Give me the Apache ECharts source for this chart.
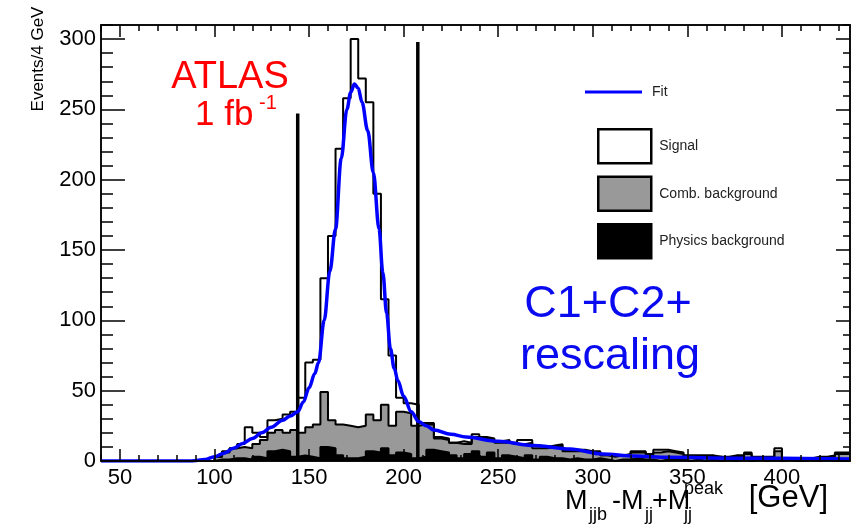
<!DOCTYPE html>
<html>
<head>
<meta charset="utf-8">
<title>Mjjb fit</title>
<script src="https://cdn.jsdelivr.net/npm/echarts@6/dist/echarts.min.js"></script>
<style>
  html, body { margin: 0; padding: 0; background: #fff; }
  #main { width: 851px; height: 526px; }
</style>
</head>
<body>
<div id="main"></div>
<script>
// binning of the histogram, GeV
var binLow = 40;
var binWidth = 4;

// events per 4 GeV bin, 40 .. 436 GeV (99 bins), one array per stacked component
var physBkg = [
  0, 0, 0, 0, 0, 0, 0, 0, 0, 0,
  0, 0, 0, 0, 0, 1, 1, 2, 2, 1,
  3, 2, 7, 8, 7, 3, 4, 3, 2, 10,
  9, 4, 2, 2, 3, 7, 6, 9, 4, 6,
  5, 2, 3, 8, 7, 6, 4, 2, 5, 7,
  3, 6, 2, 4, 3, 2, 4, 1, 3, 2,
  2, 1, 2, 1, 1, 2, 1, 0, 1, 1,
  2, 1, 1, 0, 1, 1, 1, 0, 1, 0,
  1, 0, 1, 0, 1, 0, 1, 0, 1, 0,
  1, 0, 0, 1, 0, 1, 0, 1, 1
];
var combBkg = [
  0, 0, 0, 0, 0, 0, 0, 0, 0, 0,
  0, 0, 0, 0, 0, 2, 5, 7, 8, 8,
  9, 13, 13, 14, 13, 19, 16, 21, 24, 39,
  20, 22, 23, 22, 22, 26, 23, 31, 21, 29,
  29, 23, 23, 18, 9, 9, 9, 10, 7, 10,
  13, 9, 11, 9, 9, 10, 9, 8, 6, 8,
  9, 6, 5, 6, 5, 4, 3, 3, 3, 3,
  4, 5, 3, 6, 6, 5, 4, 3, 2, 3,
  2, 3, 1, 3, 2, 5, 1, 2, 1, 7,
  1, 1, 2, 0, 2, 1, 3, 4, 4
];
var signal = [
  0, 0, 0, 0, 0, 0, 0, 0, 0, 0,
  0, 0, 0, 0, 0, 0, 1, 0, 2, 15,
  8, 2, 9, 8, 13, 13, 25, 46, 46, 81,
  131, 196, 233, 276, 247, 222, 161, 75, 50, 10,
  7, 15, 1, 1, 1, 1, 0, 2, 1, 2,
  1, 1, 1, 2, 1, 3, 2, 2, 1, 1,
  1, 1, 1, 1, 1, 1, 0, 1, 0, 1,
  1, 1, 1, 2, 1, 1, 1, 1, 1, 1,
  1, 0, 1, 1, 1, 1, 1, 1, 1, 2,
  0, 1, 0, 1, 1, 1, 1, 1, 1
];

// fit curve
var fitMass = [40, 88, 95, 100, 105, 110, 115, 120, 125, 130, 136, 140, 144, 147, 150, 153, 155, 158,
  161, 164, 167, 170, 172, 174, 176, 178, 181, 184, 187, 189, 191, 193, 195, 197, 200, 204, 208,
  212, 216, 225, 233, 250, 269, 288, 305, 322, 340, 375, 436];
var fitEvents = [0, 0, 1, 3, 5.5, 9, 12.5, 16, 20, 24, 29, 32, 35, 42, 52, 62, 70, 100,
  135, 165, 215, 250, 262, 268, 265, 255, 235, 205, 165, 134, 105, 80, 66, 57, 46, 35, 28,
  25, 22, 19, 17, 14, 11, 8.5, 5, 3.5, 2.7, 2, 1.5];

// mass window lines
var cutMass = [144, 207.5];
var cutTop = [247, 298];

var xTickLabels = [50, 100, 150, 200, 250, 300, 350, 400];
var yTickLabels = [0, 50, 100, 150, 200, 250, 300];

var xMin = 40, xMax = 436, yMax = 310;
var font = 'Liberation Sans, Arial, Helvetica, sans-serif';

var xMinor = [], yMinor = [];
for (var v = 40; v <= xMax; v += 10) if (v % 50) xMinor.push(v);
for (var w = 10; w <= yMax; w += 10) if (w % 50) yMinor.push(w);

// step outline points: left edge of every bin + closing right edge
function steps(vals) {
  var pts = vals.map(function (y, i) { return [binLow + i * binWidth, y]; });
  pts.push([binLow + vals.length * binWidth, vals[vals.length - 1]]);
  return pts;
}
var physTop = physBkg.slice();
var combTop = physBkg.map(function (p, i) { return p + combBkg[i]; });
var total = combTop.map(function (c, i) { return c + signal[i]; });

function histSeries(name, vals, fill) {
  return {
    name: name, type: 'line', step: 'end', data: steps(vals),
    symbol: 'none', color: fill,
    lineStyle: { color: '#000', width: 2 },
    areaStyle: { color: fill, opacity: 1 },
    animation: false
  };
}

function xAxis(pos, major, len, labels) {
  return {
    type: 'value', position: pos, min: xMin, max: xMax,
    axisLine: { show: true, onZero: false, lineStyle: { color: '#000', width: 1.5 } },
    axisTick: { show: true, inside: true, length: len, customValues: major,
      lineStyle: { color: '#000', width: 1.5 } },
    axisLabel: labels ? { customValues: xTickLabels, fontSize: 22, color: '#000',
      fontFamily: font, margin: 6 } : { show: false },
    splitLine: { show: false }, z: 5
  };
}
function yAxis(pos, major, len, labels) {
  return {
    type: 'value', position: pos, min: 0, max: yMax,
    axisLine: { show: true, onZero: false, lineStyle: { color: '#000', width: 1.5 } },
    axisTick: { show: true, inside: true, length: len, customValues: major,
      lineStyle: { color: '#000', width: 1.5 } },
    axisLabel: labels ? { customValues: yTickLabels, fontSize: 22, color: '#000',
      fontFamily: font, margin: 5 } : { show: false },
    splitLine: { show: false }, z: 5
  };
}

function txt(s, x, y, size, color, align, rot) {
  return {
    type: 'text', x: x, y: y, rotation: rot || 0, z: 20,
    style: { text: s, fill: color || '#000', fontSize: size, fontFamily: font,
      textAlign: align || 'left', textVerticalAlign: 'middle' }
  };
}

var chart = echarts.init(document.getElementById('main'));
chart.setOption({
  animation: false,
  grid: { left: 101, right: 1, top: 25, bottom: 65, outerBoundsMode: 'none' },
  xAxis: [
    xAxis('bottom', xTickLabels, 12, true),
    xAxis('bottom', xMinor, 6, false),
    xAxis('top', xTickLabels, 12, false),
    xAxis('top', xMinor, 6, false)
  ],
  yAxis: [
    yAxis('left', yTickLabels, 24, true),
    yAxis('left', yMinor, 12, false),
    yAxis('right', yTickLabels, 14, false),
    yAxis('right', yMinor, 7, false)
  ],
  legend: [{
    left: 585, top: 85, padding: 0, itemWidth: 57, itemHeight: 3, selectedMode: false,
    textStyle: { fontSize: 14, color: '#222', fontFamily: font, padding: [0, 0, 0, 5] },
    data: [{ name: 'Fit', icon: 'rect', itemStyle: { color: '#0000ff', borderWidth: 0 } }]
  }, {
    left: 597, top: 128, padding: 0, orient: 'vertical', itemWidth: 53, itemHeight: 34, itemGap: 11,
    selectedMode: false,
    textStyle: { fontSize: 14, color: '#222', fontFamily: font, padding: [0, 0, 0, 3] },
    data: [
      { name: 'Signal', icon: 'rect', itemStyle: { color: '#fff', borderColor: '#000', borderWidth: 2.5 } },
      { name: 'Comb. background', icon: 'rect', itemStyle: { color: '#999', borderColor: '#000', borderWidth: 2.5 } },
      { name: 'Physics background', icon: 'rect', itemStyle: { color: '#000', borderColor: '#000', borderWidth: 2.5 } }
    ]
  }],
  series: [
    histSeries('Signal', total, '#fff'),
    histSeries('Comb. background', combTop, '#999'),
    histSeries('Physics background', physTop, '#000')
  ].concat(cutMass.map(function (m, i) {
    return {
      name: 'cut' + i, type: 'line', data: [[m, 0], [m, cutTop[i]]], symbol: 'none',
      lineStyle: { color: '#000', width: 3.5 }, z: 3
    };
  })).concat([{
    name: 'Fit', type: 'line', color: '#0000ff',
    data: fitMass.map(function (m, i) { return [m, fitEvents[i]]; }),
    symbol: 'none', smooth: 0.35, smoothMonotone: 'x',
    lineStyle: { color: '#0000ff', width: 3.5 }, z: 4
  }]),
  graphic: [
    txt('Events/4 GeV', 38, 59, 17, '#000', 'center', Math.PI / 2),
    txt('ATLAS', 230, 78, 38, '#ff0000', 'center'),
    txt('1 fb', 195, 115, 35, '#ff0000'),
    txt('-1', 259, 103, 20, '#ff0000'),
    txt('C1+C2+', 608, 305, 45, '#0a0af0', 'center'),
    txt('rescaling', 610, 357, 45, '#0a0af0', 'center'),
    txt('M', 565, 502, 27),
    txt('jjb', 589, 515, 18),
    txt('-M', 612, 502, 27),
    txt('jj', 645, 515, 18),
    txt('+M', 652, 502, 27),
    txt('jj', 684, 515, 18),
    txt('peak', 684, 489, 18),
    txt('[GeV]', 828, 498, 31, '#000', 'right')
  ]
});
</script>
</body>
</html>
